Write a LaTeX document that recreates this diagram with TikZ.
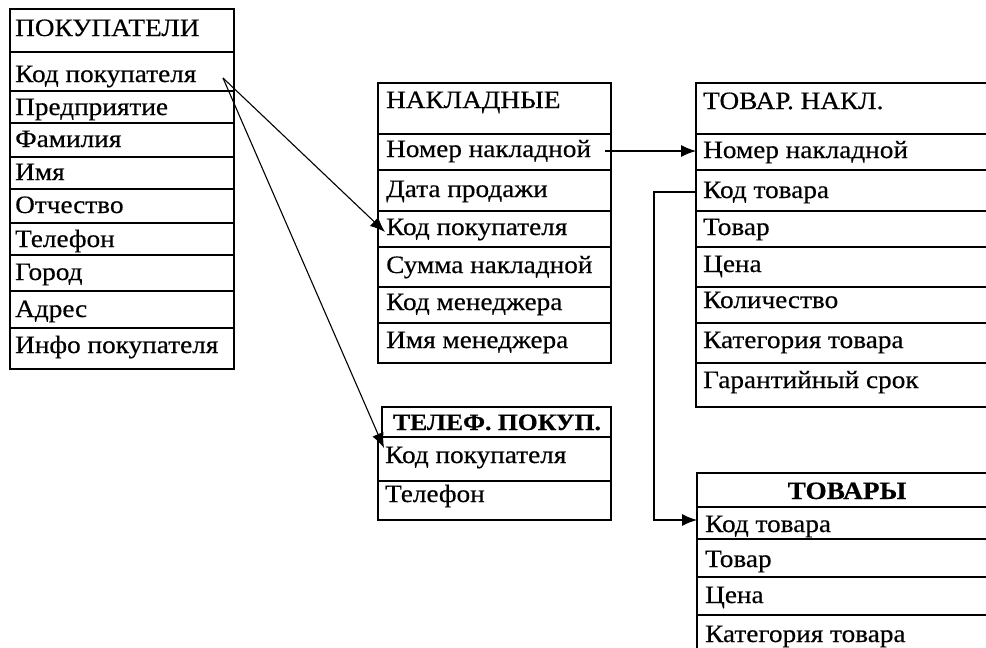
\documentclass[tikz,border=0pt]{standalone}
\usepackage{fontspec}
\setmainfont{Liberation Serif}[FakeStretch=1.09,FakeBold=0.4]
\usetikzlibrary{arrows.meta,calc}
\tikzset{
  tbl/.style={line width=1.6pt},
  fld/.style={anchor=base west, inner sep=0pt, font=\fontsize{25}{29}\selectfont},
  bhdr/.style={anchor=base, inner sep=0pt, font=\fontsize{25}{29}\selectfont\bfseries},
  link/.style={line width=1.1pt, -{Latex[length=15pt,width=12pt]}},
}
\begin{document}
\begin{tikzpicture}[x=1pt,y=-1pt]
\clip (0,0) rectangle (986,648);
\fill[white] (0,0) rectangle (986,648);

% ПОКУПАТЕЛИ
\draw[tbl] (10,9) rectangle (234,369);
\foreach \y in {52,91,123,157,189,223,255,291,328}
  \draw[tbl] (10,\y) -- (234,\y);
\node[fld] (p0) at (15,36) {ПОКУПАТЕЛИ};
\node[fld] (p1) at (15,82) {Код покупателя};
\node[fld] (p2) at (15,115) {Предприятие};
\node[fld] (p3) at (15,147) {Фамилия};
\node[fld] (p4) at (15,180) {Имя};
\node[fld] (p5) at (15,213) {Отчество};
\node[fld] (p6) at (15,247) {Телефон};
\node[fld] (p7) at (15,280) {Город};
\node[fld] (p8) at (15,317) {Адрес};
\node[fld] (p9) at (15,353) {Инфо покупателя};

% НАКЛАДНЫЕ
\draw[tbl] (378,83) rectangle (611,363);
\foreach \y in {134,170,211,247,287,323}
  \draw[tbl] (378,\y) -- (611,\y);
\node[fld] (n0) at (386,108) {НАКЛАДНЫЕ};
\node[fld] (n1) at (386,157) {Номер накладной};
\node[fld] (n2) at (386,197) {Дата продажи};
\node[fld] (n3) at (386,235) {Код покупателя};
\node[fld] (n4) at (386,273) {Сумма накладной};
\node[fld] (n5) at (386,310) {Код менеджера};
\node[fld] (n6) at (386,348) {Имя менеджера};

% ТЕЛЕФ. ПОКУП.
\draw[tbl] (382,407) rectangle (611,437);
\draw[tbl] (378,437) rectangle (611,520);
\draw[tbl] (378,481) -- (611,481);
\node[bhdr, font=\fontsize{23.5}{28}\selectfont\bfseries] (f0) at (497,430) {ТЕЛЕФ. ПОКУП.};
\node[fld] (f1) at (385,463) {Код покупателя};
\node[fld] (f2) at (385,502) {Телефон};

% ТОВАР. НАКЛ.
\draw[tbl] (1000,83) -- (696,83) -- (696,407) -- (1000,407);
\foreach \y in {134,170,211,247,287,323,363}
  \draw[tbl] (696,\y) -- (1000,\y);
\node[fld] (t0) at (703,109) {ТОВАР. НАКЛ.};
\node[fld] (t1) at (703,158) {Номер накладной};
\node[fld] (t2) at (703,198) {Код товара};
\node[fld] (t3) at (703,235) {Товар};
\node[fld] (t4) at (703,272) {Цена};
\node[fld] (t5) at (703,308) {Количество};
\node[fld] (t6) at (703,348) {Категория товара};
\node[fld] (t7) at (703,388) {Гарантийный срок};

% ТОВАРЫ
\draw[tbl] (1000,473) -- (697,473) -- (697,660);
\foreach \y in {507,539,577,615}
  \draw[tbl] (697,\y) -- (1000,\y);
\node[bhdr] (g0) at (847,499) {ТОВАРЫ};
\node[fld] (g1) at (705,532) {Код товара};
\node[fld] (g2) at (705,567) {Товар};
\node[fld] (g3) at (705,603) {Цена};
\node[fld] (g4) at (705,642) {Категория товара};

% connectors
\coordinate (src) at (223,78);
\coordinate (nsrc) at (605,151);
\draw[link] (src) -- ($(n3.base west)+(-1,-3)$);
\draw[link] (src) -- ($(f1.base west)+(-1,-15)$);
\draw[link] (nsrc) -- ($(t1.base west)+(-7,-7)$);
\draw[link] ($(t2.base west)+(-7,-6)$) -- ++(-42,0) |- ($(g1.base west)+(-8,-12)$);
\end{tikzpicture}
\end{document}
